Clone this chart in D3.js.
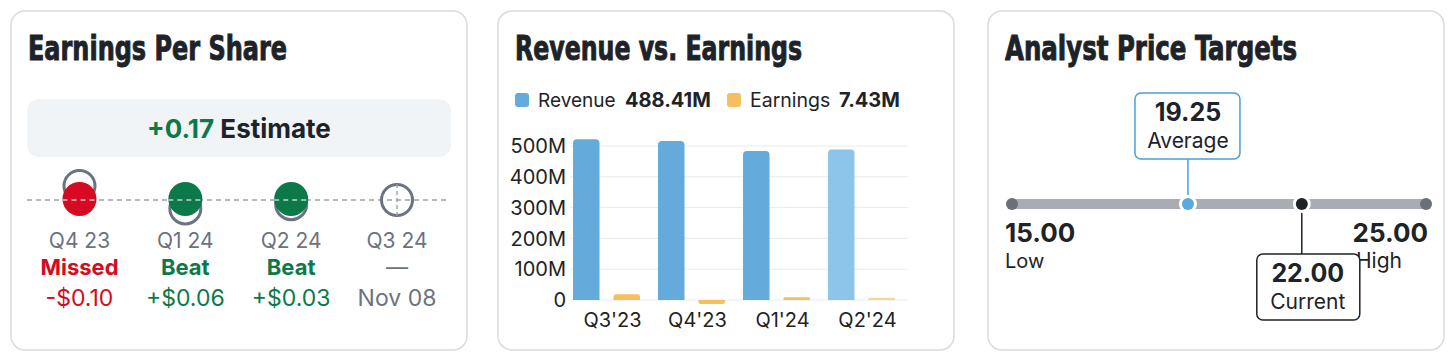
<!DOCTYPE html>
<html><head><meta charset="utf-8">
<script src="https://cdn.jsdelivr.net/npm/d3@7"></script>
<style>
html,body{margin:0;padding:0;background:#fff;}
svg{display:block;}
.title{font-family:"Liberation Sans Narrow","DejaVu Sans Condensed","Roboto",sans-serif;font-weight:700;font-size:33px;fill:#1d2329;stroke:#1d2329;stroke-width:0.9px;}
.body{font-family:"Inter","Roboto",sans-serif;}
</style>
</head><body>
<svg id="c" width="1456" height="359"></svg>
<script>
// ---------- DATA ----------
const epsQuarters = ["Q4 23", "Q1 24", "Q2 24", "Q3 24"];
const epsStatus = ["Missed", "Beat", "Beat", "—"];
const epsSurprise = [-0.10, 0.06, 0.03, null];
const epsDetail = ["-$0.10", "+$0.06", "+$0.03", "Nov 08"];
const nextEstimate = "+0.17";

const revQuarters = ["Q3'23", "Q4'23", "Q1'24", "Q2'24"];
const revenueM = [522, 516, 484, 488.41];
const earningsM = [19, -13, 9, 7.43];
const revTicks = [0, 100, 200, 300, 400, 500];
const revTickLabels = ["0", "100M", "200M", "300M", "400M", "500M"];
const legendRevenue = "488.41M";
const legendEarnings = "7.43M";

const priceLow = 15.00;
const priceHigh = 25.00;
const priceAverage = 19.25;
const priceCurrent = 22.00;

// ---------- STYLE ----------
const RED = "#d60a20", GREEN = "#0b7a48", GRAY = "#6b7280", DARK = "#1d2329";
const BLUE = "#64abdc", BLUE_L = "#8dc4e9", ORANGE = "#f6bf5e", ORANGE_L = "#fad58f";

const svg = d3.select("#c");
svg.append("rect").attr("width", 1456).attr("height", 359).attr("fill", "#fff");

// cards
const cards = [
  {x: 11, title: "Earnings Per Share", tw: 259},
  {x: 498, title: "Revenue vs. Earnings", tw: 287},
  {x: 988, title: "Analyst Price Targets", tw: 292}
];
cards.forEach(c => {
  svg.append("rect").attr("x", c.x).attr("y", 11).attr("width", 456).attr("height", 339)
    .attr("rx", 14).attr("fill", "#fff").attr("stroke", "#d8dbe0").attr("stroke-width", 1.5);
  svg.append("text").attr("class", "title").attr("x", c.x + 17).attr("y", 60)
    .attr("textLength", c.tw).attr("lengthAdjust", "spacingAndGlyphs").text(c.title);
});

// ---------- PANEL 1: EPS ----------
{
  const g = svg.append("g").attr("class", "body");
  g.append("rect").attr("x", 27).attr("y", 99).attr("width", 424).attr("height", 58)
    .attr("rx", 12).attr("fill", "#f1f4f6");
  const t = g.append("text").attr("x", 239).attr("y", 138).attr("text-anchor", "middle")
    .attr("font-size", 26).attr("font-weight", 700);
  t.append("tspan").attr("fill", GREEN).text(nextEstimate);
  t.append("tspan").attr("fill", DARK).text(" Estimate");

  const lineY = 200;
  const x = d3.scalePoint().domain(epsQuarters).range([79.5, 397]);
  const off = d3.scaleLinear().domain([-0.1, 0.1]).range([-14, 14]);
  g.append("line").attr("x1", 27).attr("x2", 449).attr("y1", lineY).attr("y2", lineY)
    .attr("stroke", "#9ca3ab").attr("stroke-width", 1.6).attr("stroke-dasharray", "5,4");

  epsQuarters.forEach((q, i) => {
    const cx = x(q);
    const s = epsSurprise[i];
    if (s === null) {
      g.append("circle").attr("cx", cx).attr("cy", lineY).attr("r", 15.5)
        .attr("fill", "none").attr("stroke", GRAY).attr("stroke-width", 3);
      g.append("line").attr("x1", cx).attr("x2", cx).attr("y1", lineY - 16).attr("y2", lineY + 16)
        .attr("stroke", "#9ca3ab").attr("stroke-width", 1.4).attr("stroke-dasharray", "4,3");
    } else {
      const col = s < 0 ? RED : GREEN;
      g.append("circle").attr("cx", cx).attr("cy", lineY + off(s)).attr("r", 15.5)
        .attr("fill", "none").attr("stroke", GRAY).attr("stroke-width", 3);
      g.append("circle").attr("cx", cx).attr("cy", lineY - 1).attr("r", 17).attr("fill", col);
      g.append("line").attr("x1", cx - 17).attr("x2", cx + 17).attr("y1", lineY).attr("y2", lineY)
        .attr("stroke", "#c9ced4").attr("stroke-width", 1.6).attr("stroke-dasharray", "5,4");
    }
    const col = s === null ? GRAY : (s < 0 ? RED : GREEN);
    g.append("text").attr("x", cx).attr("y", 248).attr("text-anchor", "middle")
      .attr("font-size", 21).attr("fill", GRAY).text(q);
    g.append("text").attr("x", cx).attr("y", 275).attr("text-anchor", "middle")
      .attr("font-size", 22).attr("font-weight", s === null ? 400 : 700).attr("fill", col).text(epsStatus[i]);
    g.append("text").attr("x", cx).attr("y", 306).attr("text-anchor", "middle")
      .attr("font-size", 23).attr("fill", col).text(epsDetail[i]);
  });
}

// ---------- PANEL 2: Revenue vs Earnings ----------
{
  const g = svg.append("g").attr("class", "body");
  // legend
  g.append("rect").attr("x", 515).attr("y", 93).attr("width", 14).attr("height", 14).attr("rx", 3).attr("fill", BLUE);
  const l1 = g.append("text").attr("x", 538).attr("y", 107).attr("font-size", 19).attr("fill", DARK);
  l1.append("tspan").text("Revenue");
  l1.append("tspan").attr("x", 625).attr("font-size", 20).attr("font-weight", 700).text(legendRevenue);
  g.append("rect").attr("x", 727).attr("y", 93).attr("width", 14).attr("height", 14).attr("rx", 3).attr("fill", ORANGE);
  const l2 = g.append("text").attr("x", 750).attr("y", 107).attr("font-size", 19.5).attr("fill", DARK);
  l2.append("tspan").text("Earnings");
  l2.append("tspan").attr("x", 839).attr("font-size", 20).attr("font-weight", 700).text(legendEarnings);

  const y = d3.scaleLinear().domain([0, 500]).range([300, 146]);
  const x0 = d3.scaleBand().domain(revQuarters).range([564, 904]).paddingInner(0.212).paddingOuter(0.106);
  const x1 = d3.scaleBand().domain(["rev", "earn"]).range([0, x0.bandwidth()]).paddingInner(0.345);

  revTicks.forEach((v, i) => {
    g.append("line").attr("x1", 570).attr("x2", 908).attr("y1", y(v)).attr("y2", y(v))
      .attr("stroke", "#e6eaef").attr("stroke-width", 1);
    g.append("text").attr("x", 566).attr("y", y(v)).attr("dy", "0.36em").attr("text-anchor", "end")
      .attr("font-size", 20).attr("fill", "#222").text(revTickLabels[i]);
  });

  function barPath(xl, w, y0, y1, r) {
    const top = Math.min(y0, y1), bot = Math.max(y0, y1);
    const h = bot - top;
    r = Math.min(r, h / 2, w / 2);
    if (y1 <= y0) {
      return `M${xl},${bot}V${top + r}Q${xl},${top} ${xl + r},${top}H${xl + w - r}Q${xl + w},${top} ${xl + w},${top + r}V${bot}Z`;
    }
    return `M${xl},${top}V${bot - r}Q${xl},${bot} ${xl + r},${bot}H${xl + w - r}Q${xl + w},${bot} ${xl + w},${bot - r}V${top}Z`;
  }

  revQuarters.forEach((q, i) => {
    const last = i === revQuarters.length - 1;
    g.append("path").attr("d", barPath(x0(q) + x1("rev"), x1.bandwidth(), y(0), y(revenueM[i]), 4))
      .attr("fill", last ? BLUE_L : BLUE);
    g.append("path").attr("d", barPath(x0(q) + x1("earn"), x1.bandwidth(), y(0), y(earningsM[i]), 3))
      .attr("fill", last ? ORANGE_L : ORANGE);
    g.append("text").attr("x", x0(q) + x0.bandwidth() / 2 + 6).attr("y", 327).attr("text-anchor", "middle")
      .attr("font-size", 20).attr("fill", "#222").text(q);
  });
}

// ---------- PANEL 3: Analyst Price Targets ----------
{
  const g = svg.append("g").attr("class", "body");
  const x = d3.scaleLinear().domain([priceLow, priceHigh]).range([1012, 1426]);
  const ty = 204;
  g.append("line").attr("x1", x(priceLow)).attr("x2", x(priceHigh)).attr("y1", ty).attr("y2", ty)
    .attr("stroke", "#a9adb3").attr("stroke-width", 10);
  [priceLow, priceHigh].forEach(v => g.append("circle").attr("cx", x(v)).attr("cy", ty).attr("r", 6).attr("fill", "#6b7076"));

  // average
  const ax = x(priceAverage);
  g.append("line").attr("x1", ax).attr("x2", ax).attr("y1", 159).attr("y2", ty).attr("stroke", "#4a9fd8").attr("stroke-width", 1.5);
  g.append("circle").attr("cx", ax).attr("cy", ty).attr("r", 9).attr("fill", "#fff");
  g.append("circle").attr("cx", ax).attr("cy", ty).attr("r", 6).attr("fill", "#5aa9e0");
  g.append("rect").attr("x", ax - 53).attr("y", 93).attr("width", 105).attr("height", 66).attr("rx", 6)
    .attr("fill", "#fff").attr("stroke", "#4a9fd8").attr("stroke-width", 1.5);
  g.append("text").attr("x", ax).attr("y", 121).attr("text-anchor", "middle").attr("font-size", 25)
    .attr("font-weight", 700).attr("fill", DARK).text(priceAverage.toFixed(2));
  g.append("text").attr("x", ax).attr("y", 148).attr("text-anchor", "middle").attr("font-size", 21)
    .attr("fill", DARK).text("Average");

  // low / high labels
  g.append("text").attr("x", 1005).attr("y", 242).attr("font-size", 26).attr("font-weight", 700).attr("fill", DARK).text(priceLow.toFixed(2));
  g.append("text").attr("x", 1005).attr("y", 268).attr("font-size", 20).attr("fill", DARK).text("Low");
  g.append("text").attr("x", 1428).attr("y", 242).attr("text-anchor", "end").attr("font-size", 26).attr("font-weight", 700).attr("fill", DARK).text(priceHigh.toFixed(2));
  g.append("text").attr("x", 1356).attr("y", 268).attr("font-size", 21).attr("fill", DARK).text("High");

  // current
  const cx = x(priceCurrent);
  g.append("line").attr("x1", cx).attr("x2", cx).attr("y1", ty).attr("y2", 254).attr("stroke", DARK).attr("stroke-width", 1.5);
  g.append("circle").attr("cx", cx).attr("cy", ty).attr("r", 9).attr("fill", "#fff");
  g.append("circle").attr("cx", cx).attr("cy", ty).attr("r", 6).attr("fill", "#1f2328");
  g.append("rect").attr("x", cx - 45).attr("y", 254).attr("width", 103).attr("height", 66).attr("rx", 6)
    .attr("fill", "#fff").attr("stroke", DARK).attr("stroke-width", 1.5);
  g.append("text").attr("x", cx + 6).attr("y", 282).attr("text-anchor", "middle").attr("font-size", 25)
    .attr("font-weight", 700).attr("fill", DARK).text(priceCurrent.toFixed(2));
  g.append("text").attr("x", cx + 6).attr("y", 309).attr("text-anchor", "middle").attr("font-size", 21)
    .attr("fill", DARK).text("Current");
}
</script>
</body></html>
